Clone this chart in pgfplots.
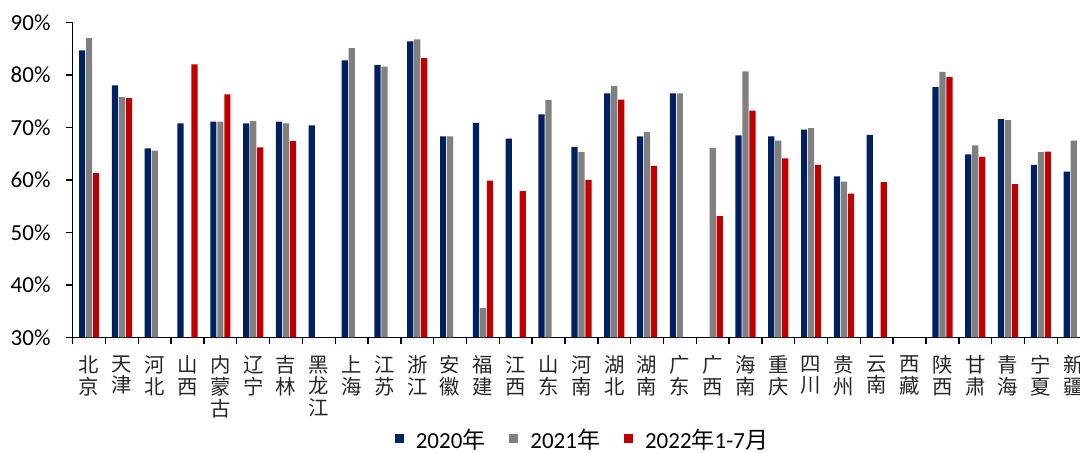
\documentclass[border=0pt]{standalone}
\usepackage{pgfplots}
\usepackage{pgfplotstable}
\pgfplotsset{compat=1.18}
\usepackage{fontspec}
\setmainfont{Carlito}
\newfontfamily\cjk{Noto Sans CJK SC}
\definecolor{cblue}{HTML}{002060}
\definecolor{cgray}{HTML}{808080}
\definecolor{cred}{HTML}{C00000}

\pgfplotstableread{
x a b c
0 84.7 87.0 61.3
1 78.0 75.8 75.6
2 66.0 65.6 nan
3 70.8 nan 82.0
4 71.1 71.1 76.3
5 70.8 71.2 66.2
6 71.1 70.8 67.4
7 70.4 nan nan
8 82.8 85.1 nan
9 81.9 81.6 nan
10 86.4 86.8 83.2
11 68.3 68.3 nan
12 70.9 35.6 59.9
13 67.9 nan 57.9
14 72.5 75.2 nan
15 66.3 65.3 60.0
16 76.5 77.9 75.3
17 68.3 69.1 62.7
18 76.5 76.5 nan
19 nan 66.1 53.1
20 68.5 80.7 73.2
21 68.3 67.5 64.1
22 69.6 69.9 62.9
23 60.7 59.7 57.4
24 68.6 nan 59.6
25 nan nan nan
26 77.7 80.6 79.6
27 64.9 66.6 64.4
28 71.6 71.4 59.2
29 62.9 65.3 65.4
30 61.6 67.5 nan
}\datatable

\begin{document}
\begin{tikzpicture}
\begin{axis}[
  scale only axis,
  width=508.7pt, height=157.5pt,
  at={(0,0)}, anchor=south west,
  xmin=-0.5, xmax=30.5,
  ymin=30, ymax=90,
  ybar=0.4pt, bar width=3.1pt,
  axis x line*=bottom, axis y line*=left,
  axis line style={-, line width=0.7pt, black},
  tick style={line width=0.7pt, black},
  tick align=outside,
  major tick length=3.4pt,
  xtick={-0.5,0.5,...,30.5},
  x tick label as interval,
  xticklabels={{北\\京},{天\\津},{河\\北},{山\\西},{内\\蒙\\古},{辽\\宁},{吉\\林},{黑\\龙\\江},{上\\海},{江\\苏},{浙\\江},{安\\徽},{福\\建},{江\\西},{山\\东},{河\\南},{湖\\北},{湖\\南},{广\\东},{广\\西},{海\\南},{重\\庆},{四\\川},{贵\\州},{云\\南},{西\\藏},{陕\\西},{甘\\肃},{青\\海},{宁\\夏},{新\\疆}},
  xticklabel style={font=\cjk\fontsize{10.2}{10.85}\selectfont, align=center, inner sep=0pt, yshift=-5.5pt, text=black!85},
  ytick={30,40,...,90},
  yticklabel={\pgfmathprintnumber{\tick}\%},
  /pgf/number format/assume math mode=true,
  yticklabel style={font=\fontsize{11.5}{12}\selectfont, inner sep=0pt, xshift=-7.5pt},
  legend columns=3,
  legend style={draw=none, at={(0.5,0)}, anchor=center, yshift=-51.5pt,
    font=\fontsize{11.5}{12}\selectfont, inner sep=0pt,
    nodes={inner sep=0pt},
    /tikz/every odd column/.append style={column sep=6pt},
    /tikz/every even column/.append style={column sep=12pt}},
  legend image code/.code={\fill[#1] (0pt,-1.5pt) rectangle (4.5pt,3.0pt);},
  clip=true,
]
\addplot[fill=cblue, draw=none] table[x=x, y=a] {\datatable};
\addplot[fill=cgray, draw=none] table[x=x, y=b] {\datatable};
\addplot[fill=cred, draw=none] table[x=x, y=c] {\datatable};
\legend{2020{\cjk 年},2021{\cjk 年},2022{\cjk 年}1-7{\cjk 月}}
\end{axis}
\pgfresetboundingbox
\useasboundingbox (-36.35pt,-57.75pt) rectangle (503.65pt,168.75pt);
\end{tikzpicture}
\end{document}
